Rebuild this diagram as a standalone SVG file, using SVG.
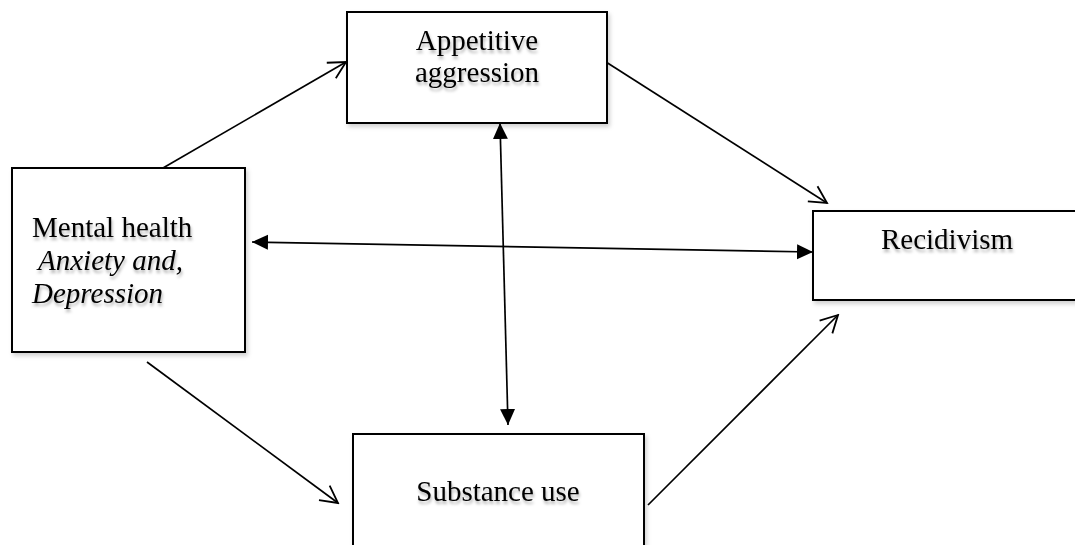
<svg xmlns="http://www.w3.org/2000/svg" width="1075" height="545" viewBox="0 0 1075 545">
<style>
.box{fill:#ffffff;stroke:#000000;stroke-width:2;filter:url(#bshadow)}
.lbl{font-family:"Liberation Serif","Times New Roman",serif;font-size:29px;fill:#000000;filter:url(#tshadow)}
.it{font-style:italic}
.conn{stroke:#000000;stroke-width:1.7;fill:none}
</style>
<defs>
<filter id="bshadow" x="-10%" y="-10%" width="130%" height="130%">
<feDropShadow dx="2" dy="3" stdDeviation="2" flood-color="#000000" flood-opacity="0.18"/>
</filter>
<filter id="tshadow" x="-10%" y="-20%" width="130%" height="160%">
<feDropShadow dx="1" dy="3" stdDeviation="1.6" flood-color="#000000" flood-opacity="0.3"/>
</filter>
<marker id="open" markerUnits="userSpaceOnUse" markerWidth="22" markerHeight="22" viewBox="0 0 22 22" refX="20" refY="11" orient="auto">
<path d="M3,2 L20,11 L3,20" fill="none" stroke="#000000" stroke-width="1.8"/>
</marker>
<marker id="solid" markerUnits="userSpaceOnUse" markerWidth="17" markerHeight="16" viewBox="0 0 17 16" refX="16" refY="8" orient="auto-start-reverse">
<path d="M0,0.5 L16,8 L0,15.5 z" fill="#000000"/>
</marker>
</defs>
<rect width="1075" height="545" fill="#ffffff"/>
<g id="connectors">
<line class="conn" x1="163" y1="168" x2="346" y2="62" marker-end="url(#open)"/>
<line class="conn" x1="606" y1="62" x2="827" y2="203" marker-end="url(#open)"/>
<line class="conn" x1="147" y1="362" x2="338" y2="503" marker-end="url(#open)"/>
<line class="conn" x1="648" y1="505" x2="838" y2="315" marker-end="url(#open)"/>
<line class="conn" x1="252" y1="242" x2="813" y2="252" marker-start="url(#solid)" marker-end="url(#solid)"/>
<line class="conn" x1="500" y1="123" x2="508" y2="425" marker-start="url(#solid)" marker-end="url(#solid)"/>
</g>
<g id="node-appetitive">
<rect class="box" x="347" y="12" width="260" height="111"/>
<text class="lbl" x="477" y="50" text-anchor="middle">Appetitive</text>
<text class="lbl" x="477" y="82" text-anchor="middle">aggression</text>
</g>
<g id="node-mental">
<rect class="box" x="12" y="168" width="233" height="184"/>
<text class="lbl" x="32" y="237">Mental health</text>
<text class="lbl it" x="38" y="270">Anxiety and,</text>
<text class="lbl it" x="32" y="303">Depression</text>
</g>
<g id="node-recidivism">
<rect class="box" x="813" y="211" width="270" height="89"/>
<text class="lbl" x="947" y="249" text-anchor="middle">Recidivism</text>
</g>
<g id="node-substance">
<rect class="box" x="353" y="434" width="291" height="130"/>
<text class="lbl" x="498" y="501" text-anchor="middle">Substance use</text>
</g>
</svg>
